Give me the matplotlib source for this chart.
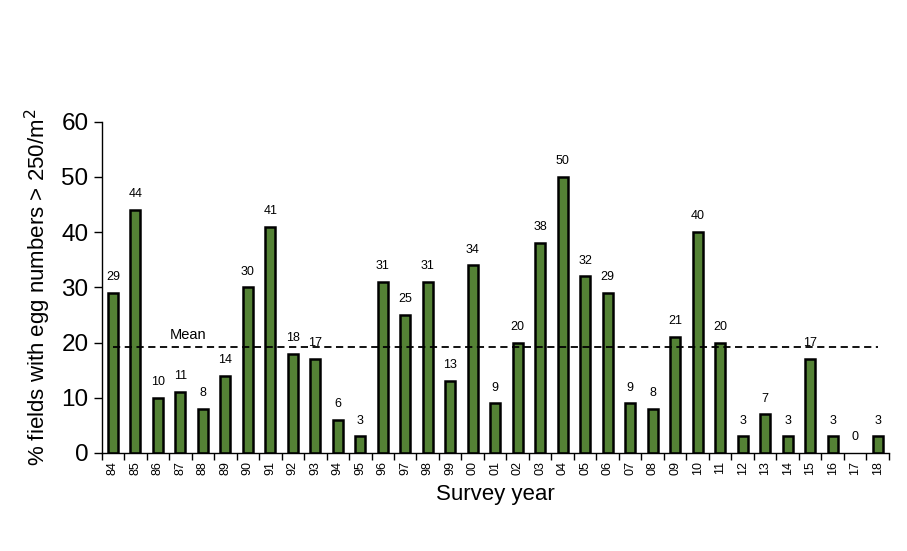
import matplotlib.pyplot as plt
import numpy as np

plt.rcParams['font.family'] = ['Liberation Sans', 'DejaVu Sans']

years = ["84", "85", "86", "87", "88", "89", "90", "91", "92", "93", "94", "95",
         "96", "97", "98", "99", "00", "01", "02", "03", "04", "05", "06", "07",
         "08", "09", "10", "11", "12", "13", "14", "15", "16", "17", "18"]
pct_fields = [29, 44, 10, 11, 8, 14, 30, 41, 18, 17, 6, 3,
              31, 25, 31, 13, 34, 9, 20, 38, 50, 32, 29, 9,
              8, 21, 40, 20, 3, 7, 3, 17, 3, 0, 3]
mean_value = 19.2


def chart_egg_survey():
    fig = plt.figure(figsize=(9.07, 5.51), dpi=100)
    ax = fig.add_axes([0.112, 0.178, 0.868, 0.601])

    x = np.arange(len(years))
    # zero-height bars get no outline
    edge_widths = [1.8 if v > 0 else 0 for v in pct_fields]
    ax.bar(x, pct_fields, width=0.45, color='#548235', edgecolor='black',
           linewidth=edge_widths, zorder=2)

    for xi, v in zip(x, pct_fields):
        ax.annotate(str(v), (xi, v), xytext=(0, 7), textcoords='offset points',
                    ha='center', va='bottom', fontsize=9)

    # mean line
    ax.plot([x[0], x[-1]], [mean_value, mean_value], color='black', linestyle='--',
            linewidth=1.3, dashes=(4, 2.5), zorder=3)
    ax.text(3.35, mean_value + 0.9, "Mean", ha='center', va='bottom', fontsize=10.5)

    ax.set_xlim(-0.5, len(years) - 0.5)
    ax.set_ylim(0, 60)
    ax.set_yticks(range(0, 61, 10))
    ax.tick_params(axis='y', labelsize=17.5, length=6, width=1, direction='out')

    ax.set_xticks(x)
    ax.set_xticklabels(years, rotation=90, fontsize=9)
    ax.set_xticks(np.arange(-0.5, len(years), 1.0), minor=True)
    ax.tick_params(axis='x', which='major', length=0, pad=6)
    ax.tick_params(axis='x', which='minor', length=5, width=1, direction='out')

    for side in ['top', 'right']:
        ax.spines[side].set_visible(False)
    ax.spines['left'].set_linewidth(1)
    ax.spines['bottom'].set_linewidth(1)

    ax.set_ylabel('% fields with egg numbers > 250/m$^2$', fontsize=16, labelpad=6)
    ax.set_xlabel('Survey year', fontsize=16, labelpad=6)

    plt.savefig("out.png", dpi=100)
    plt.clf()


def main():
    chart_egg_survey()


main()
